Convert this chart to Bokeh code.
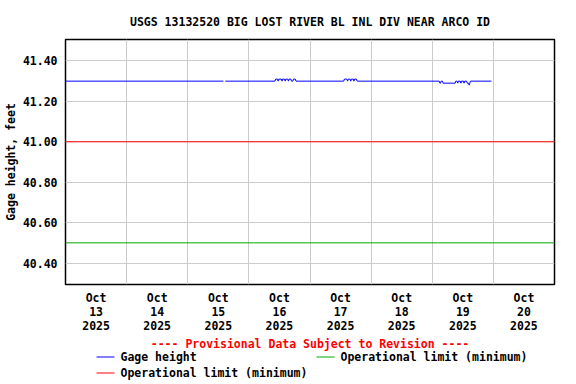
import pandas as pd
from bokeh.plotting import figure
from bokeh.layouts import column
from bokeh.models import FixedTicker, Range1d, Label, NumeralTickFormatter
from bokeh.embed import file_html
from bokeh.resources import INLINE

# ---------------- data ----------------
TITLE = "USGS 13132520 BIG LOST RIVER BL INL DIV NEAR ARCO ID"
Y_LABEL = "Gage height, feet"
PROVISIONAL = "---- Provisional Data Subject to Revision ----"
SERIES_NAMES = ["Gage height", "Operational limit (minimum)", "Operational limit (minimum)"]
SERIES_COLORS = ["#0000ff", "#00aa00", "#ff0000"]

gage_times = [
    "2025-10-13 00:00", "2025-10-15 14:00", "2025-10-15 14:15", "2025-10-15 14:45",
    "2025-10-16 10:15", "2025-10-16 10:30", "2025-10-16 11:15", "2025-10-16 11:30",
    "2025-10-16 11:45", "2025-10-16 12:45", "2025-10-16 13:00", "2025-10-16 13:15",
    "2025-10-16 14:00", "2025-10-16 14:15", "2025-10-16 14:30", "2025-10-16 15:15",
    "2025-10-16 15:30", "2025-10-16 15:45", "2025-10-16 16:30", "2025-10-16 16:45",
    "2025-10-16 17:15", "2025-10-16 17:30", "2025-10-16 18:15", "2025-10-16 18:30",
    "2025-10-17 13:15", "2025-10-17 13:30", "2025-10-17 14:30", "2025-10-17 14:45",
    "2025-10-17 15:00", "2025-10-17 15:45", "2025-10-17 16:00", "2025-10-17 16:15",
    "2025-10-17 17:00", "2025-10-17 17:15", "2025-10-17 17:30", "2025-10-17 18:15",
    "2025-10-17 18:30",
    "2025-10-19 02:45", "2025-10-19 03:00", "2025-10-19 03:15", "2025-10-19 03:30",
    "2025-10-19 04:00", "2025-10-19 04:15", "2025-10-19 09:00", "2025-10-19 09:15",
    "2025-10-19 09:45", "2025-10-19 10:00", "2025-10-19 10:15", "2025-10-19 11:00",
    "2025-10-19 11:15", "2025-10-19 11:30", "2025-10-19 12:15", "2025-10-19 12:30",
    "2025-10-19 12:45", "2025-10-19 13:30", "2025-10-19 13:45", "2025-10-19 14:15",
    "2025-10-19 14:30", "2025-10-19 14:45", "2025-10-19 15:00", "2025-10-19 23:15",
]
NaN = float("nan")
gage_values = [
    41.30, 41.30, NaN, 41.30,
    41.30, 41.31, 41.31, 41.30,
    41.31, 41.31, 41.30, 41.31,
    41.31, 41.30, 41.31, 41.31,
    41.30, 41.31, 41.31, 41.30,
    41.30, 41.31, 41.31, 41.30,
    41.30, 41.31, 41.31, 41.30,
    41.31, 41.31, 41.30, 41.31,
    41.31, 41.30, 41.31, 41.31,
    41.30,
    41.30, 41.29, 41.29, 41.30,
    41.30, 41.29, 41.29, 41.30,
    41.30, 41.29, 41.30, 41.30,
    41.29, 41.30, 41.30, 41.29,
    41.30, 41.30, 41.29, 41.29,
    41.28, 41.29, 41.30, 41.30,
]

limit_green = 40.50
limit_red = 41.00

x_start = "2025-10-13 00:00"
x_end = "2025-10-21 00:00"
y_start, y_end = 40.294, 41.506

y_ticks = [40.40, 40.60, 40.80, 41.00, 41.20, 41.40]
grid_days = ["2025-10-14", "2025-10-15", "2025-10-16", "2025-10-17",
             "2025-10-18", "2025-10-19", "2025-10-20"]
label_days = ["2025-10-13 12:00", "2025-10-14 12:00", "2025-10-15 12:00", "2025-10-16 12:00",
              "2025-10-17 12:00", "2025-10-18 12:00", "2025-10-19 12:00", "2025-10-20 12:00"]
day_labels = ["Oct\n13\n2025", "Oct\n14\n2025", "Oct\n15\n2025", "Oct\n16\n2025",
              "Oct\n17\n2025", "Oct\n18\n2025", "Oct\n19\n2025", "Oct\n20\n2025"]

# ---------------- helpers ----------------
def ms(s):
    return float(pd.Timestamp(s).value // 10**6)

FONT = "DejaVu Sans Mono"
FS = "11.5px"

x0, x1 = ms(x_start), ms(x_end)

W = 576
H1 = 335          # main chart
H2 = 384 - H1     # legend strip
BL, BR = 65, W - 554   # left/right borders shared by both parts

p = figure(width=W, height=H1, output_backend="svg", toolbar_location=None,
           x_axis_type="datetime",
           x_range=Range1d(x0, x1), y_range=Range1d(y_start, y_end),
           min_border_left=BL, min_border_right=BR,
           min_border_top=39, min_border_bottom=H1 - 284)

p.background_fill_color = "white"
p.border_fill_color = "white"
p.outline_line_color = "black"
p.outline_line_width = 1.5

# title
p.title.text = TITLE
p.title.align = "center"
p.title.text_font = FONT
p.title.text_font_style = "bold"
p.title.text_font_size = FS
p.title.text_color = "black"
p.title.standoff = 21

# axes
gx = [ms(d) for d in grid_days]
lx = [ms(d) for d in label_days]
xa = p.xaxis[0]
xa.ticker = FixedTicker(ticks=lx)
xa.major_label_overrides = {t: lab for t, lab in zip(lx, day_labels)}
ya = p.yaxis[0]
ya.ticker = FixedTicker(ticks=y_ticks)
ya.formatter = NumeralTickFormatter(format="0.00")
for ax in (xa, ya):
    ax.axis_line_color = None
    ax.major_tick_line_color = None
    ax.minor_tick_line_color = None
    ax.major_tick_out = 0
    ax.major_tick_in = 0
    ax.minor_tick_out = 0
    ax.minor_tick_in = 0
    ax.major_label_text_font = FONT
    ax.major_label_text_font_style = "bold"
    ax.major_label_text_font_size = FS
    ax.major_label_text_color = "black"
xa.major_label_standoff = 6
xa.major_label_text_line_height = 1.0
ya.major_label_standoff = 8
ya.axis_label = Y_LABEL
ya.axis_label_standoff = 2
ya.axis_label_text_font = FONT
ya.axis_label_text_font_style = "bold"
ya.axis_label_text_font_size = FS
ya.axis_label_text_color = "black"

p.xgrid.ticker = FixedTicker(ticks=gx)
p.xgrid.grid_line_color = "#cccccc"
p.ygrid.grid_line_color = "#cccccc"

# data lines
gt = [ms(t) for t in gage_times]
p.line([x0, x1], [limit_green, limit_green], line_color=SERIES_COLORS[1], line_width=1)
p.line([x0, x1], [limit_red, limit_red], line_color=SERIES_COLORS[2], line_width=1)
p.line(gt, gage_values, line_color=SERIES_COLORS[0], line_width=1)

# ---------------- legend strip (units = page pixels, y measured up from page bottom) ----------------
q = figure(width=W, height=H2, output_backend="svg", toolbar_location=None,
           x_range=Range1d(BL, W - BR), y_range=Range1d(0, H2),
           x_axis_location=None, y_axis_location=None,
           min_border_left=BL, min_border_right=BR,
           min_border_top=0, min_border_bottom=0)
q.grid.visible = False
q.outline_line_color = None
q.background_fill_color = "white"
q.border_fill_color = "white"

q.add_layout(Label(x=309.5, y=H2 - 8, text=PROVISIONAL, text_align="center",
                   text_baseline="middle", text_font=FONT, text_font_style="bold",
                   text_font_size=FS, text_color="#ff0000"))

# legend grid layout: two columns, items filled row by row
COL_X = [96, 316]          # left edge of each column's swatch
ROW_Y = [27.5, 11.5]       # row centres
SWATCH_W, TEXT_GAP = 18, 24
for i, (name, color) in enumerate(zip(SERIES_NAMES, SERIES_COLORS)):
    cx = COL_X[i % 2]
    ry = ROW_Y[i // 2]
    q.line([cx, cx + SWATCH_W], [ry, ry], line_color=color, line_width=1)
    q.add_layout(Label(x=cx + TEXT_GAP, y=ry, text=name, text_align="left",
                       text_baseline="middle", text_font=FONT, text_font_style="bold",
                       text_font_size=FS, text_color="black"))

layout = column(p, q, spacing=0)
open("out.html", "w").write(file_html(layout, INLINE))
